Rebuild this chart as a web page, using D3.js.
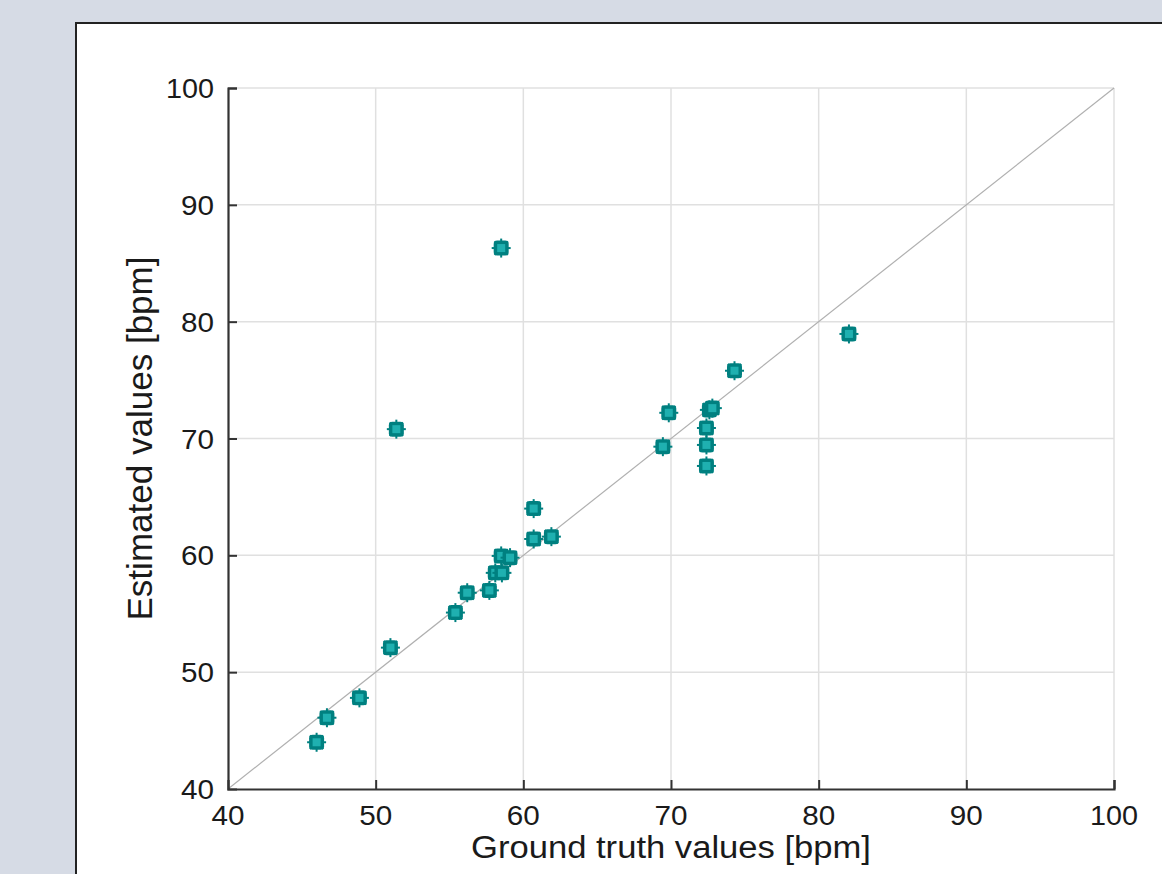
<!DOCTYPE html>
<html lang="en">

<head>
    <script src='https://d3js.org/d3.v7.min.js'></script>
    <style>
        body { margin: 0; background: #d6dbe5; }
        text { font-family: "Liberation Sans", Arial, sans-serif; fill: #1a1a1a; }
    </style>
</head>

<body>
</body>

<script>

    // ground truth vs estimated heart rate (bpm)
    const groundTruth = [46.0, 46.7, 48.9, 51.0, 51.4, 55.4, 56.2, 57.7, 58.1, 58.55, 58.5, 59.1,
                         60.7, 61.9, 60.7, 58.5, 69.45, 69.85, 72.4, 72.4, 72.4, 72.6, 72.8, 74.3, 82.05];
    const estimated   = [44.0, 46.1, 47.8, 52.1, 70.8, 55.1, 56.8, 57.0, 58.5, 58.5, 59.95, 59.8,
                         61.4, 61.6, 64.0, 86.3, 69.3, 72.2, 67.65, 69.45, 70.9, 72.45, 72.6, 75.8, 78.95];
    const tickValues  = [40, 50, 60, 70, 80, 90, 100];

    const width = 1162;
    const height = 874;
    const plotL = 228, plotR = 1114, plotT = 88, plotB = 789;

    const x = d3.scaleLinear().domain([40, 100]).range([plotL, plotR]);
    const y = d3.scaleLinear().domain([40, 100]).range([plotB, plotT]);

    const svg = d3.select("body")
                    .append("svg")
                    .attr("width", width)
                    .attr("height", height)
                    .style("display", "block");

    // white figure panel
    svg.append("rect")
        .attr("x", 76).attr("y", 23)
        .attr("width", width).attr("height", height)
        .attr("fill", "white")
        .attr("stroke", "#222")
        .attr("stroke-width", 2);

    // grid
    svg.append("g").selectAll("line")
        .data(tickValues.slice(1))
        .enter().append("line")
        .attr("x1", d => x(d)).attr("x2", d => x(d))
        .attr("y1", plotT).attr("y2", plotB)
        .attr("stroke", "#e0e0e0").attr("stroke-width", 1.5);

    svg.append("g").selectAll("line")
        .data(tickValues.slice(1))
        .enter().append("line")
        .attr("x1", plotL).attr("x2", plotR)
        .attr("y1", d => y(d)).attr("y2", d => y(d))
        .attr("stroke", "#e0e0e0").attr("stroke-width", 1.5);

    // identity line
    svg.append("line")
        .attr("x1", x(40)).attr("y1", y(40))
        .attr("x2", x(100)).attr("y2", y(100))
        .attr("stroke", "#b0b0b0").attr("stroke-width", 1.2);

    // axes with inward ticks
    const xAxis = d3.axisTop(x).tickValues(tickValues).tickSize(9).tickFormat("");
    const yAxis = d3.axisRight(y).tickValues(tickValues).tickSize(9).tickFormat("");

    const gx = svg.append("g").attr("transform", "translate(0," + plotB + ")").call(xAxis);
    const gy = svg.append("g").attr("transform", "translate(" + plotL + ",0)").call(yAxis);
    [gx, gy].forEach(g => {
        g.select(".domain").attr("stroke", "#333").attr("stroke-width", 2.2);
        g.selectAll(".tick line").attr("stroke", "#333").attr("stroke-width", 2);
    });
    // remove end ticks that sit on the corner
    gx.selectAll(".tick").filter(d => d === 40).remove();
    gy.selectAll(".tick").filter(d => d === 40).remove();

    // tick labels
    svg.append("g").selectAll("text")
        .data(tickValues)
        .enter().append("text")
        .attr("x", d => x(d))
        .attr("y", 825)
        .attr("text-anchor", "middle")
        .attr("font-size", 28)
        .attr("textLength", d => d === 100 ? 48 : 33)
        .attr("lengthAdjust", "spacingAndGlyphs")
        .text(d => d);

    svg.append("g").selectAll("text")
        .data(tickValues)
        .enter().append("text")
        .attr("x", 214)
        .attr("y", d => y(d) + 10)
        .attr("text-anchor", "end")
        .attr("font-size", 28)
        .attr("textLength", d => d === 100 ? 48 : 33)
        .attr("lengthAdjust", "spacingAndGlyphs")
        .text(d => d);

    // axis titles
    svg.append("text")
        .attr("x", (plotL + plotR) / 2)
        .attr("y", 858)
        .attr("text-anchor", "middle")
        .attr("font-size", 31)
        .attr("textLength", 400)
        .attr("lengthAdjust", "spacingAndGlyphs")
        .text("Ground truth values [bpm]");

    svg.append("text")
        .attr("transform", "translate(152," + (plotT + plotB) / 2 + ") rotate(-90)")
        .attr("text-anchor", "middle")
        .attr("font-size", 35)
        .attr("textLength", 364)
        .attr("lengthAdjust", "spacingAndGlyphs")
        .text("Estimated values [bpm]");

    // markers
    const pts = groundTruth.map((d, i) => [d, estimated[i]]);
    const m = svg.append("g").selectAll("g")
                .data(pts)
                .enter().append("g")
                .attr("transform", d => "translate(" + x(d[0]) + "," + y(d[1]) + ")");

    [0, 45, 90, 135].forEach(a => {
        m.append("line")
            .attr("x1", -9.5).attr("x2", 9.5)
            .attr("transform", "rotate(" + a + ")")
            .attr("stroke", "#008080").attr("stroke-width", 2);
    });
    m.append("rect")
        .attr("x", -7.5).attr("y", -7.5)
        .attr("width", 15).attr("height", 15)
        .attr("rx", 3.5)
        .attr("fill", "#008080");
    m.append("rect")
        .attr("x", -4).attr("y", -4)
        .attr("width", 8).attr("height", 8)
        .attr("fill", "#1fb0b0");

</script>

</html>
